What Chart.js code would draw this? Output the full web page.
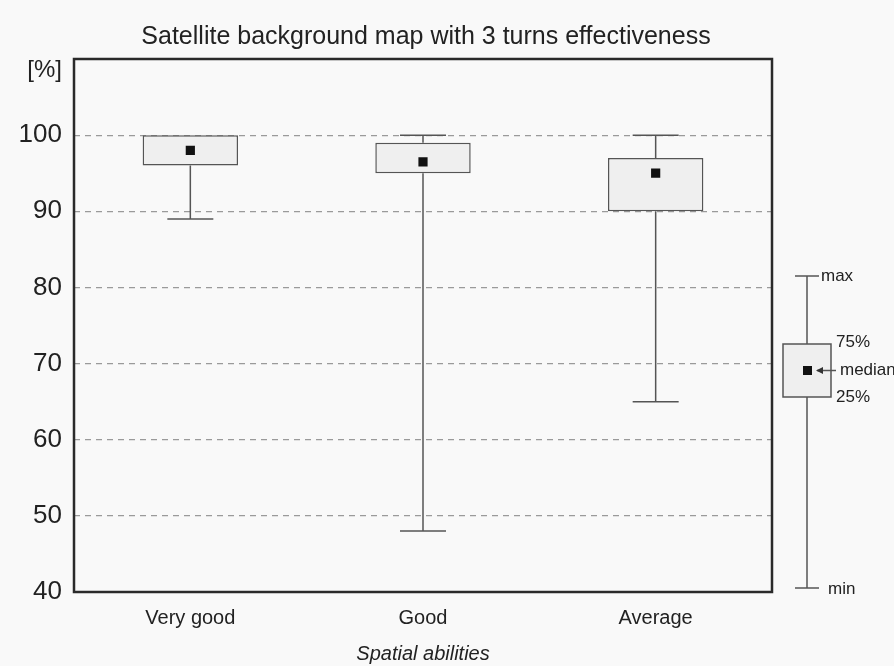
<!DOCTYPE html>
<html>
<head>
<meta charset="utf-8">
<script src="https://cdn.jsdelivr.net/npm/chart.js@4/dist/chart.umd.min.js"></script>
<style>
  html, body { margin: 0; padding: 0; background: #f9f9f9; }
  #wrap { width: 894px; height: 666px; }
</style>
</head>
<body>
<div id="wrap"><canvas id="myChart" width="894" height="666"></canvas></div>
<script>
// dane
var categories = ["Very good", "Good", "Average"];
var minValues = [89, 48, 65];
var q1Values = [96, 95, 90];
var medianValues = [98, 96.5, 95];
var q3Values = [100, 99, 97];
var maxValues = [100, 100, 100];
var yTicks = [40, 50, 60, 70, 80, 90, 100];

var FONT = "'Liberation Sans', Arial, sans-serif";
var INK = "#222";
var LINE = "#555";

// wasy (min/max) rysowane pod pudełkami
var whiskers = {
  id: "whiskers",
  beforeDatasetsDraw: function (chart) {
    var x = chart.scales.x, y = chart.scales.y, ctx = chart.ctx;
    var capHalf = 23;
    ctx.save();
    ctx.strokeStyle = LINE;
    ctx.lineWidth = 1.5;
    categories.forEach(function (c, i) {
      var px = x.getPixelForValue(i);
      var yMin = y.getPixelForValue(minValues[i]);
      var yMax = y.getPixelForValue(maxValues[i]);
      var yQ1 = y.getPixelForValue(q1Values[i]);
      var yQ3 = y.getPixelForValue(q3Values[i]);
      ctx.beginPath();
      ctx.moveTo(px, yQ1); ctx.lineTo(px, yMin);
      ctx.moveTo(px - capHalf, yMin); ctx.lineTo(px + capHalf, yMin);
      if (maxValues[i] > q3Values[i]) {
        ctx.moveTo(px, yQ3); ctx.lineTo(px, yMax);
        ctx.moveTo(px - capHalf, yMax); ctx.lineTo(px + capHalf, yMax);
      }
      ctx.stroke();
    });
    ctx.restore();
  }
};

// ramka, opis osi [%] i legenda z prawej strony
var decor = {
  id: "decor",
  afterDraw: function (chart) {
    var a = chart.chartArea, ctx = chart.ctx;
    ctx.save();
    ctx.strokeStyle = "#2a2a2a";
    ctx.lineWidth = 2.5;
    ctx.strokeRect(a.left, a.top, a.right - a.left, a.bottom - a.top);

    ctx.fillStyle = INK;
    ctx.font = "24px " + FONT;
    ctx.textAlign = "right";
    ctx.textBaseline = "middle";
    ctx.fillText("[%]", 62, 70);

    // legenda
    var cx = 807;
    ctx.strokeStyle = LINE;
    ctx.lineWidth = 1.5;
    ctx.beginPath();
    ctx.moveTo(cx, 276); ctx.lineTo(cx, 588);
    ctx.moveTo(cx - 12, 276); ctx.lineTo(cx + 12, 276);
    ctx.moveTo(cx - 12, 588); ctx.lineTo(cx + 12, 588);
    ctx.stroke();
    ctx.fillStyle = "#efefef";
    ctx.fillRect(783, 344, 48, 53);
    ctx.strokeRect(783, 344, 48, 53);
    ctx.fillStyle = "#111";
    ctx.fillRect(803, 366, 9, 9);
    // strzałka do mediany
    ctx.beginPath();
    ctx.moveTo(817, 370.5); ctx.lineTo(836, 370.5);
    ctx.stroke();
    ctx.fillStyle = "#333";
    ctx.beginPath();
    ctx.moveTo(816, 370.5); ctx.lineTo(823, 367); ctx.lineTo(823, 374); ctx.closePath();
    ctx.fill();

    ctx.fillStyle = INK;
    ctx.font = "17px " + FONT;
    ctx.textAlign = "left";
    ctx.fillText("max", 821, 276);
    ctx.fillText("75%", 836, 342);
    ctx.fillText("median", 840, 370);
    ctx.fillText("25%", 836, 397);
    ctx.fillText("min", 828, 589);
    ctx.restore();
  }
};

new Chart("myChart", {
  data: {
    labels: categories,
    datasets: [
      {
        type: "bar",
        data: q1Values.map(function (v, i) { return [v, q3Values[i]]; }),
        backgroundColor: "#efefef",
        borderColor: LINE,
        borderWidth: 1.5,
        borderSkipped: false,
        categoryPercentage: 1,
        barPercentage: 0.41,
        order: 2
      },
      {
        type: "line",
        data: medianValues,
        showLine: false,
        pointStyle: "rect",
        pointRadius: 6.5,
        pointBackgroundColor: "#111",
        pointBorderColor: "#111",
        pointBorderWidth: 0,
        order: 1
      }
    ]
  },
  options: {
    responsive: false,
    animation: false,
    layout: { padding: { left: 0, right: 42, top: 0, bottom: 0 } },
    plugins: {
      legend: false,
      tooltip: { enabled: false },
      title: {
        display: true,
        text: "Satellite background map with 3 turns effectiveness",
        color: INK,
        font: { family: FONT, size: 25, weight: "normal" },
        padding: { top: 22, bottom: 7 }
      }
    },
    scales: {
      x: {
        grid: { display: false },
        border: { display: false },
        ticks: {
          color: INK,
          font: { family: FONT, size: 20 },
          padding: 6
        },
        title: {
          display: true,
          text: "Spatial abilities",
          color: INK,
          font: { family: FONT, size: 20, style: "italic" },
          padding: { top: 6, bottom: 0 }
        },
        afterFit: function (s) { s.height = 74; }
      },
      y: {
        min: 40,
        max: 110,
        afterBuildTicks: function (s) {
          s.ticks = yTicks.concat([110]).map(function (v) { return { value: v }; });
        },
        ticks: {
          color: INK,
          font: { family: FONT, size: 26 },
          padding: 12,
          callback: function (v) { return v > 100 ? "" : v; }
        },
        grid: {
          drawTicks: false,
          color: function (c) {
            var v = c.tick && c.tick.value;
            return (v === 40 || v === 110) ? "rgba(0,0,0,0)" : "#9a9a9a";
          },
          lineWidth: 1.2
        },
        border: { display: false, dash: [6, 5] },
        afterFit: function (s) { s.width = 74; }
      },
      // pusta oś po prawej - zostawia miejsce na legendę pudełka
      yKey: {
        position: "right",
        display: true,
        grid: { display: false },
        border: { display: false },
        ticks: { display: false },
        afterFit: function (s) { s.width = 80; }
      }
    }
  },
  plugins: [whiskers, decor]
});
</script>
</body>
</html>
